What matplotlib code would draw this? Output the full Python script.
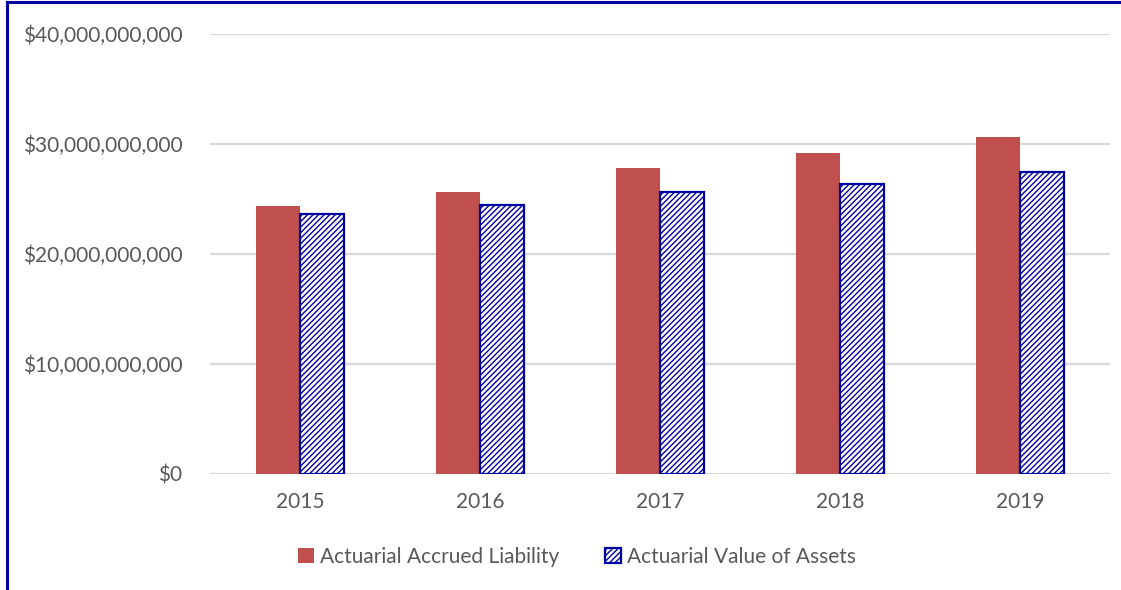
import matplotlib
matplotlib.use("Agg")
import matplotlib.pyplot as plt
import numpy as np
from matplotlib.lines import Line2D
from matplotlib.ticker import FuncFormatter

# Data (dollars)
years = ["2015", "2016", "2017", "2018", "2019"]
liability = [24.32e9, 25.60e9, 27.78e9, 29.15e9, 30.67e9]
assets = [23.68e9, 24.47e9, 25.60e9, 26.32e9, 27.47e9]
series_names = ["Actuarial Accrued Liability", "Actuarial Value of Assets"]

plt.rcParams['font.family'] = ['Lato', 'DejaVu Sans']
plt.rcParams['hatch.linewidth'] = 1.0
text_col = "#595959"
red = "#C0504D"
navy = "#0000A0"

fig = plt.figure(figsize=(11.21, 5.90), dpi=100)
ax = fig.add_axes([210/1121, 116/590, 900/1121, 440/590])

x = np.arange(len(years))
w = 0.244
ax.bar(x - w/2, liability, w, color=red, label=series_names[0], zorder=3)
ax.bar(x + w/2, assets, w, facecolor="white", edgecolor=navy, hatch="//////",
       linewidth=1.6, label=series_names[1], zorder=3)

ax.set_xlim(-0.5, len(years) - 0.5)
ax.set_ylim(0, 40e9)
ax.set_yticks(np.arange(0, 40e9 + 1, 10e9))
ax.yaxis.set_major_formatter(FuncFormatter(lambda v, p: "${:,.0f}".format(v)))
ax.set_xticks(x)
ax.set_xticklabels(years)
ax.tick_params(axis="both", length=0, colors=text_col, labelsize=15)
ax.tick_params(axis="y", pad=20)
ax.tick_params(axis="x", pad=13)
ax.grid(axis="y", color="#D9D9D9", linewidth=1.6, zorder=0)
for s in ax.spines.values():
    s.set_visible(False)

leg = fig.legend(loc="center", bbox_to_anchor=(0.515, 33/590), ncol=2, frameon=False,
                 fontsize=15, handlelength=0.75, handleheight=0.75,
                 handletextpad=0.3, columnspacing=2.2)
for t in leg.get_texts():
    t.set_color(text_col)

# dark blue frame on the top and left edges
fig.add_artist(Line2D([6.5/1121, 6.5/1121], [0, 1 - 2/590], color=navy, linewidth=2.2,
                      transform=fig.transFigure))
fig.add_artist(Line2D([6.5/1121, 1], [1 - 2/590, 1 - 2/590], color=navy, linewidth=2.2,
                      transform=fig.transFigure))

plt.savefig("out.png", dpi=100)
